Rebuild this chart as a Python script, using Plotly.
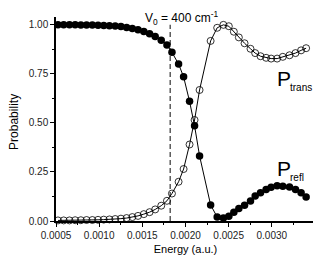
import plotly.graph_objects as go

# Energy (a.u.) of each computed point
energy = [0.000523, 0.000589, 0.000656, 0.000722, 0.000788, 0.000854, 0.000921,
          0.000987, 0.001053, 0.001119, 0.001186, 0.001252, 0.001318, 0.001384,
          0.001450, 0.001517, 0.001584, 0.001649, 0.001719, 0.001785, 0.001843,
          0.001920, 0.001978, 0.002047, 0.002105, 0.002163, 0.002291, 0.002367,
          0.002439, 0.002502, 0.002560, 0.002618, 0.002684, 0.002753, 0.002807,
          0.002869, 0.002934, 0.002992, 0.003061, 0.003127, 0.003205, 0.003274,
          0.003339, 0.003397]

p_refl = [1.000, 1.000, 1.000, 1.000, 0.999, 0.999, 0.999, 0.998, 0.997, 0.996,
          0.994, 0.991, 0.987, 0.982, 0.975, 0.966, 0.955, 0.941, 0.922, 0.897,
          0.860, 0.800, 0.735, 0.610, 0.485, 0.332, 0.082, 0.020, 0.015, 0.024,
          0.044, 0.064, 0.080, 0.102, 0.127, 0.144, 0.160, 0.172, 0.180, 0.177,
          0.173, 0.160, 0.144, 0.122]

p_trans = [0.003, 0.003, 0.003, 0.004, 0.004, 0.005, 0.005, 0.006, 0.007, 0.008,
           0.010, 0.012, 0.015, 0.020, 0.026, 0.035, 0.045, 0.059, 0.078, 0.103,
           0.140, 0.200, 0.265, 0.390, 0.515, 0.668, 0.918, 0.985, 1.000, 0.993,
           0.965, 0.936, 0.906, 0.878, 0.856, 0.840, 0.832, 0.828, 0.828, 0.837,
           0.845, 0.856, 0.870, 0.881]

v0_energy = 0.0018225  # 400 cm^-1 in a.u.

x_ticks = [0.0005, 0.0010, 0.0015, 0.0020, 0.0025, 0.0030, 0.0035]
x_ticklabels = ["0.0005", "0.0010", "0.0015", "0.0020", "0.0025", "0.0030", "0.0035"]
y_ticks = [0.0, 0.25, 0.5, 0.75, 1.0]
y_ticklabels = ["0.00", "0.25", "0.50", "0.75", "1.00"]

FONT = "Liberation Sans, Arial, sans-serif"

fig = go.Figure()

fig.add_trace(go.Scatter(
    x=energy, y=p_trans, mode="lines+markers", name="P_trans",
    line=dict(color="black", width=1),
    marker=dict(symbol="circle-open", size=7, color="black", line=dict(width=0.8)),
    cliponaxis=False,
))
fig.add_trace(go.Scatter(
    x=energy, y=p_refl, mode="lines+markers", name="P_refl",
    line=dict(color="black", width=1),
    marker=dict(symbol="circle", size=7.5, color="black"),
    cliponaxis=False,
))

fig.add_shape(type="line", xref="x", yref="y", x0=v0_energy, x1=v0_energy,
              y0=0, y1=1.0, line=dict(color="#333333", width=1.2, dash="5px,3px"),
              layer="below")

fig.add_annotation(x=0.001955, y=1.035, xref="x", yref="y",
                   text="V<sub>0</sub> = 400 cm<sup>-1</sup>", showarrow=False,
                   font=dict(family=FONT, size=12, color="black"),
                   xanchor="center", yanchor="middle")

fig.add_annotation(x=0.003145, y=0.725, xref="x", yref="y", text="P", showarrow=False,
                   font=dict(family=FONT, size=21, color="black"), xanchor="center", yanchor="middle")
fig.add_annotation(x=0.003342, y=0.68, xref="x", yref="y", text="trans", showarrow=False,
                   font=dict(family=FONT, size=10, color="black"), xanchor="center", yanchor="middle")
fig.add_annotation(x=0.003145, y=0.267, xref="x", yref="y", text="P", showarrow=False,
                   font=dict(family=FONT, size=21, color="black"), xanchor="center", yanchor="middle")
fig.add_annotation(x=0.003289, y=0.222, xref="x", yref="y", text="refl", showarrow=False,
                   font=dict(family=FONT, size=10, color="black"), xanchor="center", yanchor="middle")

# y-axis title placed as rotated text left of the tick labels
fig.add_annotation(x=-0.162, y=0.486, xref="paper", yref="paper", text="Probability",
                   showarrow=False, textangle=-90,
                   font=dict(family=FONT, size=12, color="black"),
                   xanchor="center", yanchor="middle")

fig.update_layout(
    width=321, height=255,
    margin=dict(l=48, r=14, t=9, b=36),
    paper_bgcolor="white", plot_bgcolor="white",
    showlegend=False,
    font=dict(family=FONT, color="black"),
    xaxis=dict(
        range=[0.0005, 0.0035], tickmode="array", tickvals=x_ticks, ticktext=x_ticklabels,
        ticks="outside", ticklen=4, tickwidth=1, tickcolor="black",
        showline=True, linecolor="black", linewidth=1.5, showgrid=False, zeroline=False,
        tickfont=dict(size=10, color="#222222"),
        minor=dict(ticks="outside", ticklen=2, tickwidth=1, tickcolor="black", dtick=0.00025, tick0=0.0005, showgrid=False),
        title=dict(text="Energy (a.u.)", font=dict(size=11), standoff=6),
    ),
    yaxis=dict(
        range=[0, 1.04], tickmode="array", tickvals=y_ticks, ticktext=y_ticklabels,
        ticks="outside", ticklen=4, tickwidth=1, tickcolor="black",
        showline=True, linecolor="black", linewidth=1.5, showgrid=False, zeroline=False,
        tickfont=dict(size=10, color="#222222"),
        minor=dict(ticks="outside", ticklen=2, tickwidth=1, tickcolor="black", dtick=0.125, tick0=0, showgrid=False),
        automargin=False,
    ),
)

fig.write_html("out.html")
